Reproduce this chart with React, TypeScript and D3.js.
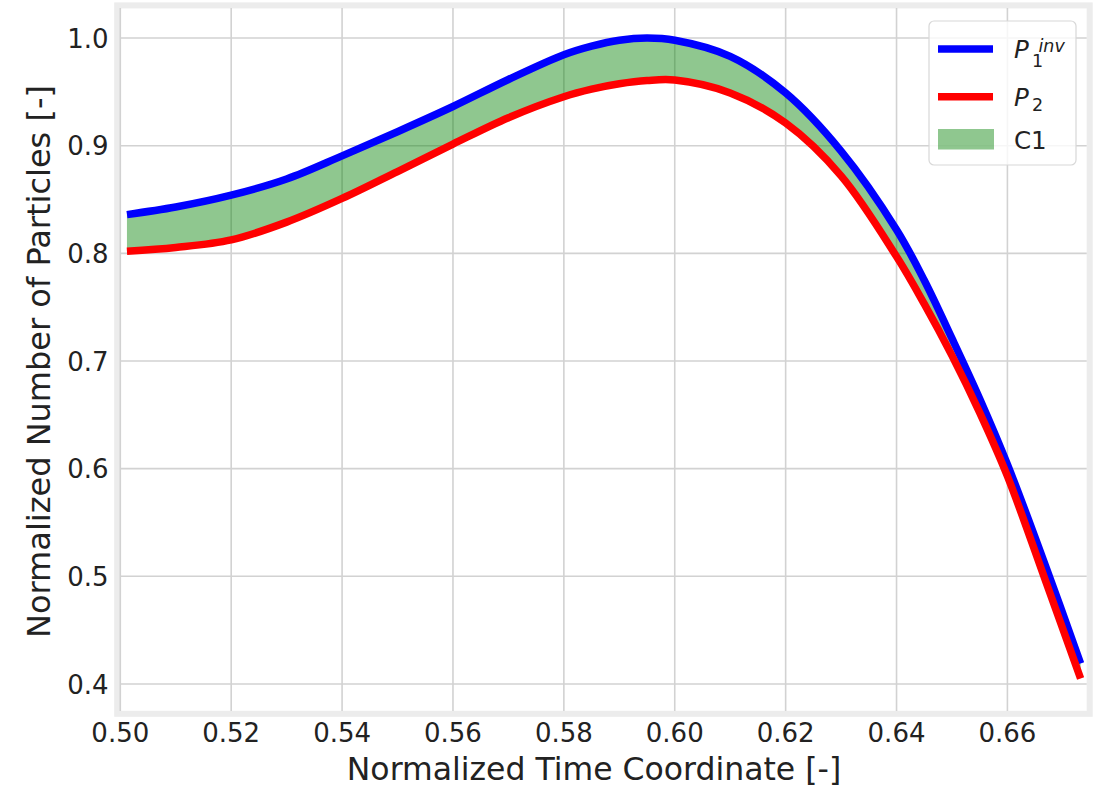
import React from "react";
import * as d3 from "d3";

const xValues = [0.5012, 0.51, 0.52, 0.53, 0.54, 0.55, 0.56, 0.57, 0.58, 0.585, 0.59, 0.595, 0.6, 0.61, 0.62, 0.63, 0.64, 0.645, 0.65, 0.655, 0.66, 0.667, 0.6732];
const p1inv = [0.836, 0.843, 0.854, 0.869, 0.8905, 0.913, 0.9364, 0.9615, 0.9845, 0.9925, 0.998, 1.0, 0.998, 0.983, 0.949, 0.895, 0.822, 0.775, 0.721, 0.665, 0.604, 0.508, 0.419];
const p2 = [0.802, 0.8055, 0.8125, 0.829, 0.851, 0.876, 0.9015, 0.926, 0.9455, 0.9525, 0.9575, 0.9605, 0.961, 0.949, 0.921, 0.872, 0.797, 0.753, 0.705, 0.652, 0.593, 0.494, 0.405];
const xTicks = [0.5, 0.52, 0.54, 0.56, 0.58, 0.6, 0.62, 0.64, 0.66];
const yTicks = [0.4, 0.5, 0.6, 0.7, 0.8, 0.9, 1.0];
const xLabel = "Normalized Time Coordinate [-]";
const yLabel = "Normalized Number of Particles [-]";

const FONT = "DejaVu Sans";

export default function App() {
  const left = 120.3, right = 1086.7, top = 8, bottom = 711;
  const x = d3.scaleLinear().domain([0.5, 0.6743]).range([left, right]);
  const y = d3.scaleLinear().domain([0.3749, 1.0279]).range([bottom, top]);

  const pts = xValues.map((xv, i) => ({ x: xv, a: p1inv[i], b: p2[i] }));
  const curve = d3.curveCatmullRom.alpha(0.5);
  const lineA = d3.line<any>().x(d => x(d.x)).y(d => y(d.a)).curve(curve);
  const lineB = d3.line<any>().x(d => x(d.x)).y(d => y(d.b)).curve(curve);
  const area = d3.area<any>().x(d => x(d.x)).y0(d => y(d.b)).y1(d => y(d.a)).curve(d3.curveCatmullRom.alpha(0.5));

  return (
    <svg width={1102} height={786} style={{ position: "absolute", left: 0, top: 0, background: "#fff" }} fontFamily={FONT}>
      <rect x={left} y={top} width={right - left} height={bottom - top} fill="#fff" />
      <rect x={117.2} y={5.4} width={972.5} height={708.4} fill="none" stroke="#ececec" strokeWidth={6} />
      {xTicks.map(t => (
        <line key={"gx" + t} x1={x(t)} x2={x(t)} y1={top} y2={bottom} stroke="#d2d2d2" strokeWidth={1.6} />
      ))}
      {yTicks.map(t => (
        <line key={"gy" + t} x1={left} x2={right} y1={y(t)} y2={y(t)} stroke="#d2d2d2" strokeWidth={1.6} />
      ))}
      <path d={area(pts) || ""} fill="green" fillOpacity={0.44} />
      <path d={lineA(pts) || ""} fill="none" stroke="#0000ff" strokeWidth={7.5} />
      <path d={lineB(pts) || ""} fill="none" stroke="#ff0000" strokeWidth={7.5} />

      {xTicks.map(t => (
        <text key={"tx" + t} x={x(t)} y={741.5} textAnchor="middle" fontSize={26} fill="#222">
          {t.toFixed(2)}
        </text>
      ))}
      {yTicks.map(t => (
        <text key={"ty" + t} x={108.5} y={y(t) + 9.8} textAnchor="end" fontSize={26} fill="#222">
          {t.toFixed(1)}
        </text>
      ))}
      <text x={594} y={780} textAnchor="middle" fontSize={31.5} fill="#222">{xLabel}</text>
      <text transform={`translate(50,${(top + bottom) / 2 + 2}) rotate(-90)`} textAnchor="middle" fontSize={32} fill="#222">{yLabel}</text>

      <g>
        <rect x={929} y={21} width={147} height={144} rx={5} fill="#fff" fillOpacity={0.8} stroke="#d8d8d8" strokeWidth={1.2} />
        <line x1={938} x2={993} y1={49} y2={49} stroke="#0000ff" strokeWidth={7.5} />
        <line x1={938} x2={993} y1={96.7} y2={96.7} stroke="#ff0000" strokeWidth={7.5} />
        <rect x={938} y={129} width={56} height={20.5} fill="green" fillOpacity={0.44} />
        <text x={1014} y={58.3} fontSize={24.5} fill="#222">
          <tspan fontStyle="italic">P</tspan>
          <tspan x={1032} y={66.7} fontSize={17.5}>1</tspan>
          <tspan x={1038.5} y={51.5} fontSize={17.5} fontStyle="italic">inv</tspan>
        </text>
        <text x={1014} y={106} fontSize={24.5} fill="#222">
          <tspan fontStyle="italic">P</tspan>
          <tspan x={1032} y={110.7} fontSize={17.5}>2</tspan>
        </text>
        <text x={1014} y={149.3} fontSize={24.5} fill="#222">C1</text>
      </g>
    </svg>
  );
}
